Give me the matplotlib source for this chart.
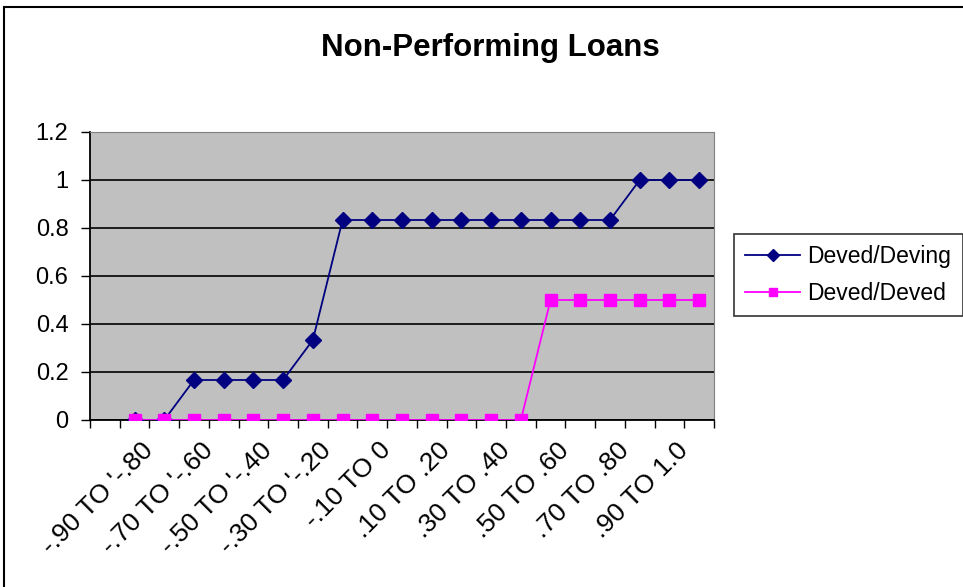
import numpy as np
import matplotlib
matplotlib.use('Agg')
import matplotlib.pyplot as plt
import matplotlib.transforms as mtransforms
from matplotlib.patches import Rectangle

plt.rcParams['font.family'] = ['Liberation Sans', 'DejaVu Sans']

# category bins (first bin has no data), labels shown every other bin
categories = ["-1.0 TO '-.90", "-.90 TO '-.80", "-.80 TO '-.70", "-.70 TO '-.60",
              "-.60 TO '-.50", "-.50 TO '-.40", "-.40 TO '-.30", "-.30 TO '-.20",
              "-.20 TO '-.10", "-.10 TO 0", "0 TO .10", ".10 TO .20", ".20 TO .30",
              ".30 TO .40", ".40 TO .50", ".50 TO .60", ".60 TO .70", ".70 TO .80",
              ".80 TO .90", ".90 TO 1.0", "1.0"]
deving = [np.nan, 0, 0, 0.1667, 0.1667, 0.1667, 0.1667, 0.3333,
          0.8333, 0.8333, 0.8333, 0.8333, 0.8333, 0.8333, 0.8333, 0.8333, 0.8333, 0.8333,
          1, 1, 1]
deved = [np.nan, 0, 0, 0, 0, 0, 0, 0, 0, 0, 0, 0, 0, 0, 0,
         0.5, 0.5, 0.5, 0.5, 0.5, 0.5]
y_ticks = [0, 0.2, 0.4, 0.6, 0.8, 1, 1.2]
y_labels = ['0', '0.2', '0.4', '0.6', '0.8', '1', '1.2']

fig = plt.figure(figsize=(9.63, 5.87), dpi=100)
fig.patch.set_facecolor('white')

# outer chart border
fig.add_artist(Rectangle((4 / 963, -0.05), 1.1, (587 - 7) / 587 + 0.05,
                         transform=fig.transFigure, fill=False,
                         edgecolor='black', linewidth=1.5))

ax = fig.add_axes([90 / 963, 1 - 420 / 587, 624 / 963, 288 / 587])
ax.set_facecolor('#C0C0C0')

x = np.arange(len(categories))
ax.plot(x, deving, color='#000080', marker='D', markersize=8, linewidth=1.3,
        label='Deved/Deving', zorder=3)
ax.plot(x, deved, color='#FF00FF', marker='s', markersize=8.5, linewidth=1.3,
        label='Deved/Deved', zorder=4)

ax.set_xlim(-0.5, len(categories) - 0.5)
ax.set_ylim(0, 1.2)

ax.set_yticks(y_ticks)
ax.set_yticklabels(y_labels, fontsize=17)
ax.yaxis.grid(True, color='black', linewidth=1.2)
ax.set_axisbelow(True)

shown = x[1::2]
ax.set_xticks(shown)
ax.set_xticklabels([categories[i] for i in shown], fontsize=19, rotation=45,
                   ha='right', va='center', rotation_mode='anchor')
ax.tick_params(axis='x', which='major', length=0, pad=19)
shift = mtransforms.ScaledTranslation(15 / 100, 0, fig.dpi_scale_trans)
for lbl in ax.get_xticklabels():
    lbl.set_transform(lbl.get_transform() + shift)
ax.set_xticks(np.arange(-0.5, len(categories)), minor=True)
ax.tick_params(axis='x', which='minor', length=6, width=1, direction='out')
ax.tick_params(axis='y', length=6.5, width=1, direction='out', pad=9)

for side in ['top', 'right']:
    ax.spines[side].set_color('#808080')
ax.spines['left'].set_color('black')
ax.spines['bottom'].set_color('black')
ax.spines['bottom'].set_linewidth(1.3)
ax.spines['left'].set_linewidth(1.3)

fig.text(490 / 963, 1 - 48 / 587, 'Non-Performing Loans', fontsize=22.5,
         fontweight='bold', ha='center', va='center')

leg = ax.legend(loc='center left', bbox_to_anchor=(734 / 963, 1 - 275 / 587),
                bbox_transform=fig.transFigure, fontsize=16.5, frameon=True,
                fancybox=False, edgecolor='black', borderpad=0.5,
                handlelength=2.4, handletextpad=0.3, labelspacing=0.6,
                markerscale=0.75, borderaxespad=0)
leg.get_frame().set_linewidth(1.2)

fig.savefig('out.png', dpi=100)
